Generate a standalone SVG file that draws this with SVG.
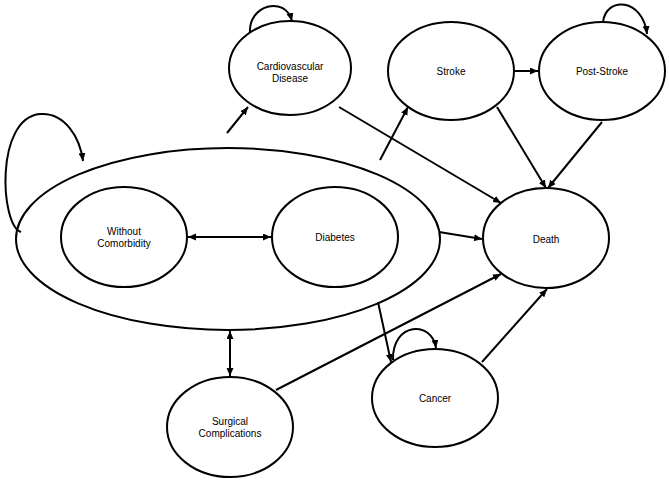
<svg xmlns="http://www.w3.org/2000/svg" width="669" height="480" viewBox="0 0 669 480">
<style>
.n{fill:#fff;stroke:#000;stroke-width:2}
.t{font-family:"Liberation Sans",Arial,sans-serif;font-size:10px;fill:#000;text-anchor:middle}
.c{fill:none;stroke:#000;stroke-width:2;marker-end:url(#ah)}
.d{marker-start:url(#ah)}
</style>
<defs>
<marker id="ah" markerUnits="userSpaceOnUse" markerWidth="9" markerHeight="8" refX="8" refY="3.5" orient="auto-start-reverse">
<path d="M0,0 L8,3.5 L0,7 z" fill="#000"/>
</marker>
</defs>
<rect width="669" height="480" fill="#fff"/>
<g id="group">
<ellipse class="n" cx="228" cy="239" rx="212" ry="91"/>
</g>
<g id="without">
<ellipse class="n" cx="124" cy="237" rx="63" ry="50"/>
<text class="t" x="124" y="235">Without</text>
<text class="t" x="124" y="247">Comorbidity</text>
</g>
<g id="diabetes">
<ellipse class="n" cx="335" cy="237" rx="63" ry="50"/>
<text class="t" x="335" y="241">Diabetes</text>
</g>
<g id="cardio">
<ellipse class="n" cx="290" cy="68" rx="61" ry="47"/>
<text class="t" x="290" y="70">Cardiovascular</text>
<text class="t" x="290" y="82">Disease</text>
</g>
<g id="stroke">
<ellipse class="n" cx="451" cy="71" rx="63" ry="49"/>
<text class="t" x="451" y="75">Stroke</text>
</g>
<g id="poststroke">
<ellipse class="n" cx="602" cy="71" rx="63" ry="49"/>
<text class="t" x="602" y="75">Post-Stroke</text>
</g>
<g id="death">
<ellipse class="n" cx="546" cy="238" rx="63" ry="50"/>
<text class="t" x="546" y="243">Death</text>
</g>
<g id="cancer">
<ellipse class="n" cx="435" cy="398" rx="63" ry="49"/>
<text class="t" x="435" y="402">Cancer</text>
</g>
<g id="surgical">
<ellipse class="n" cx="230" cy="427" rx="63" ry="50"/>
<text class="t" x="230" y="425">Surgical</text>
<text class="t" x="230" y="437">Complications</text>
</g>
<g id="connectors">
<path class="c" d="M21 232 C0 225,-5 118,40 114 C65 112,80 138,83 161"/>
<path class="c d" d="M188 237 L271 237"/>
<path class="c" d="M227 133 L248 107"/>
<path class="c" d="M380 160 L408 107"/>
<path class="c" d="M515 71 L538 71"/>
<path class="c" d="M250 33 C248 5,285 -5,292 21"/>
<path class="c" d="M603 22 C606 -4,643 -2,647 34"/>
<path class="c" d="M497 107 L546 188"/>
<path class="c" d="M602 122 L548 188"/>
<path class="c" d="M339 107 L501 203"/>
<path class="c" d="M439 232 L482 239"/>
<path class="c" d="M276 390 L501 274"/>
<path class="c" d="M482 362 L547 289"/>
<path class="c" d="M378 302 L391 362"/>
<path class="c" d="M393 360 C392 322,432 320,436 348"/>
<path class="c d" d="M230 331 L230 376"/>
</g>
</svg>
